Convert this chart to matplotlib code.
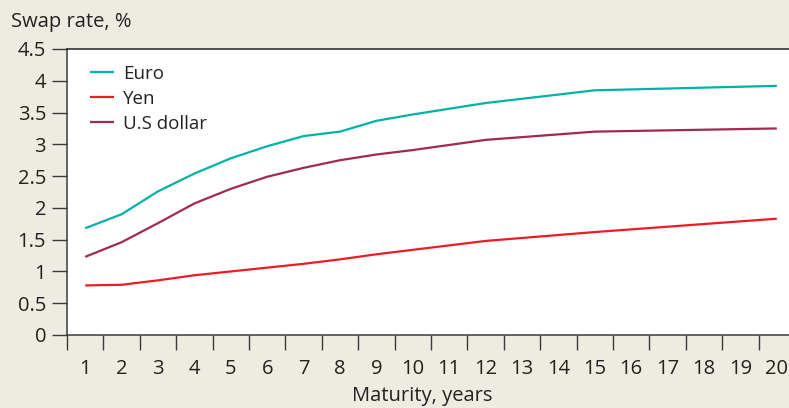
import matplotlib
matplotlib.use("Agg")
import matplotlib.pyplot as plt
from matplotlib.ticker import FixedLocator

plt.rcParams['font.family'] = ['Open Sans', 'DejaVu Sans']

maturities = [1, 2, 3, 4, 5, 6, 7, 8, 9, 10, 12, 15, 20]
euro = [1.68, 1.90, 2.26, 2.54, 2.78, 2.97, 3.13, 3.20, 3.37, 3.47, 3.65, 3.85, 3.92]
yen = [0.78, 0.79, 0.86, 0.94, 1.00, 1.06, 1.12, 1.19, 1.27, 1.34, 1.48, 1.62, 1.83]
usd = [1.23, 1.46, 1.76, 2.07, 2.30, 2.49, 2.63, 2.75, 2.84, 2.91, 3.07, 3.20, 3.25]
series_names = ["Euro", "Yen", "U.S dollar"]
x_labels = [str(i) for i in range(1, 21)]
y_ticks = [0, 0.5, 1, 1.5, 2, 2.5, 3, 3.5, 4, 4.5]
y_labels = ["0", "0.5", "1", "1.5", "2", "2.5", "3", "3.5", "4", "4.5"]

bg = "#EEEBE0"
colors = ["#00B2A9", "#ED1C24", "#A2294F"]
axcol = "#3a3a3a"
fs = 14.5

W, H = 789, 408
fig = plt.figure(figsize=(W / 100, H / 100), dpi=100, facecolor=bg)
left, right, top, bottom = 67, 789, 49, 335
ax = fig.add_axes([left / W, (H - bottom) / H, (right - left) / W, (bottom - top) / H])
ax.set_facecolor("white")

for vals, c, name in zip([euro, yen, usd], colors, series_names):
    ax.plot(maturities, vals, color=c, lw=1.6, label=name, solid_capstyle='butt')

ax.set_ylim(0, 4.5)
ax.set_xlim(0.5, 0.5 + (right - left) / 36.4)

ax.spines['right'].set_visible(False)
for s in ['left', 'bottom', 'top']:
    ax.spines[s].set_color(axcol)
    ax.spines[s].set_linewidth(1.1)
ax.spines['top'].set_color("#222222")

ax.set_yticks(y_ticks)
ax.set_yticklabels(y_labels)
ax.tick_params(axis='y', direction='out', length=11, width=1.0, color=axcol,
               labelsize=fs, labelcolor="#222222", pad=4)

ax.xaxis.set_major_locator(FixedLocator([i + 0.5 for i in range(0, 21)]))
ax.xaxis.set_minor_locator(FixedLocator(list(range(1, 21))))
ax.set_xticklabels([], minor=False)
ax.set_xticklabels(x_labels, minor=True)
ax.tick_params(axis='x', which='major', direction='out', length=11, width=1.0, color=axcol)
ax.tick_params(axis='x', which='minor', length=0, labelsize=fs, labelcolor="#222222", pad=17)

fig.text(11 / W, 1 - 22 / H, "Swap rate, %", fontsize=fs, color="#222222",
         ha='left', va='center')
fig.text(422 / W, 1 - 396 / H, "Maturity, years", fontsize=fs, color="#222222",
         ha='center', va='center')

leg = ax.legend(loc='upper left', bbox_to_anchor=(0.032, 0.945), frameon=False,
                fontsize=13.5, handlelength=1.25, handletextpad=0.5, labelspacing=0.38,
                borderpad=0, borderaxespad=0)
for t in leg.get_texts():
    t.set_color("#222222")

fig.savefig("out.png", dpi=100, facecolor=bg)
